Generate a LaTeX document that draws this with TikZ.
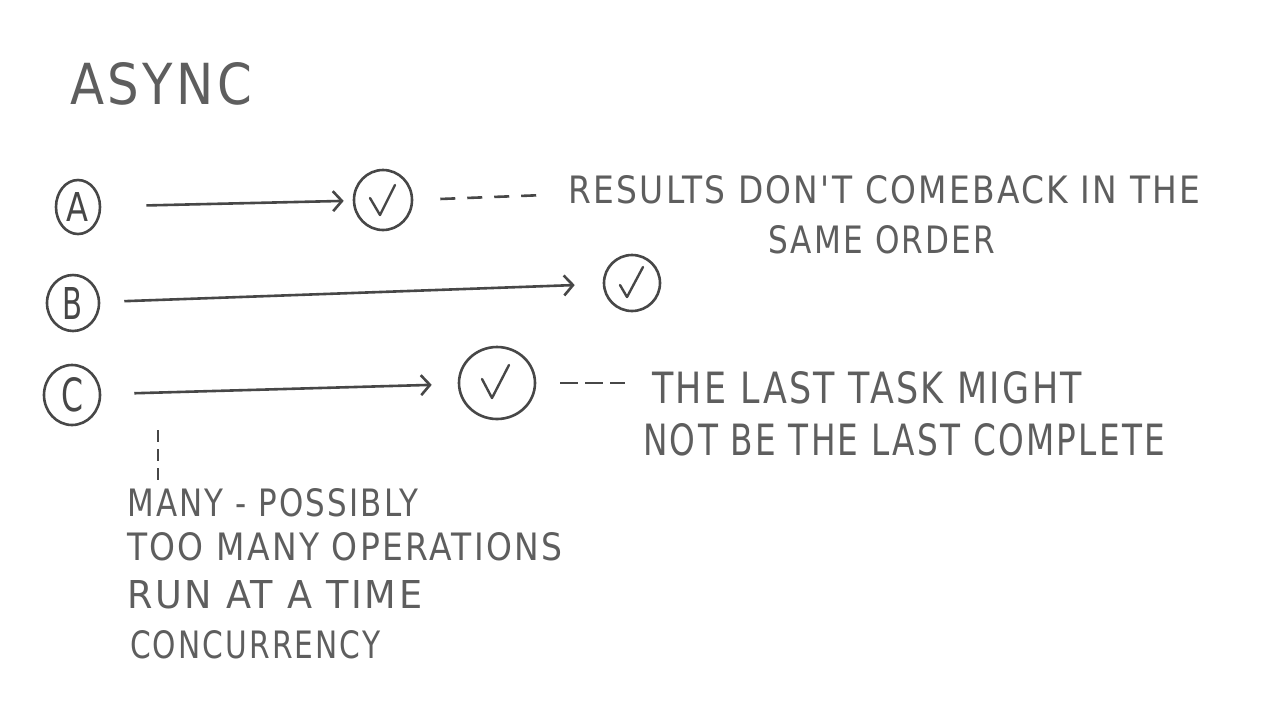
\documentclass[tikz,border=0pt]{standalone}
\usepackage{fontspec}
\setmainfont{DejaVu Sans}
\newfontfamily\hand[LetterSpace=7]{DejaVu Sans}
\newfontfamily\symfont{DejaVu Sans}
\usetikzlibrary{arrows.meta,shapes.geometric}
\definecolor{pen}{HTML}{474747}
\definecolor{ink}{HTML}{5E5E5E}
\newcommand\hwtext[3]{\resizebox{#1pt}{#2pt}{\hand #3}}
\tikzset{
  x=1pt, y=-1pt,
  lbl/.style={anchor=west, inner sep=0pt, text=ink},
  ring/.style={ellipse, draw=pen, line width=2.6pt, inner sep=0pt, text=pen},
  tick/.style={draw=pen, line width=2.4pt, line join=round, line cap=round},
  flow/.style={draw=pen, line width=2.6pt, -{Straight Barb[length=9pt,width=20pt,line width=2.6pt]}},
  dashline/.style={draw=pen, line width=2.6pt, dash pattern=on 15pt off 12pt},
}
\begin{document}
\begin{tikzpicture}
\useasboundingbox[fill=white] (0,0) rectangle (1280,721);

\node[lbl] (title) at (70,84) {\hwtext{182}{42}{ASYNC}};

\node[ring, minimum width=44pt, minimum height=54pt] (a) at (78,207) {\resizebox{22pt}{29pt}{\symfont A}};
\node[ring, minimum width=52pt, minimum height=56pt] (b) at (73,303) {\resizebox{20pt}{32pt}{\symfont B}};
\node[ring, minimum width=56pt, minimum height=60pt] (c) at (72,395) {\resizebox{22pt}{34pt}{\symfont C}};

\node[ring, minimum width=58pt, minimum height=60pt] (ca) at (383,200) {};
\node[ring, minimum width=56pt, minimum height=56pt] (cb) at (632,283) {};
\node[ring, minimum width=76pt, minimum height=72pt] (cc) at (497,383) {};
\draw[tick] (ca.center) ++(-13,-2) -- ++(10,17) -- ++(15,-30);
\draw[tick] (cb.center) ++(-12,2) -- ++(7,12) -- ++(16,-30);
\draw[tick] (cc.center) ++(-15,-4) -- ++(10,19) -- ++(17,-33);

\draw[flow, shorten <=45pt, shorten >=9pt] (a) -- (ca);
\draw[flow, shorten <=24pt, shorten >=28pt] (b) -- (cb);
\draw[flow, shorten <=33pt, shorten >=26pt] (c) -- (cc);

\node[lbl] (res1) at (568,190) {\hwtext{632}{28}{RESULTS DON'T COMEBACK IN THE}};
\node[lbl] (res2) at (768,240) {\hwtext{227}{28}{SAME ORDER}};
\node[lbl] (last1) at (652,388) {\hwtext{430}{32}{THE LAST TASK MIGHT}};
\node[lbl] (last2) at (643,440) {\hwtext{522}{32}{NOT BE THE LAST COMPLETE}};

\coordinate (dA) at (545,195);
\coordinate (dC) at (625,383);
\draw[dashline, shorten <=27pt] (ca.east) -- (dA);
\draw[dashline, dash pattern=on 18pt off 7pt, shorten <=24pt] (cc.east) -- (dC);

\coordinate (v1) at (158,430);
\coordinate (v2) at (158,482);
\draw[draw=pen, line width=1.8pt, dash pattern=on 12pt off 7pt] (v1) -- (v2);

\node[lbl] (m1) at (127,503) {\hwtext{291}{28}{MANY - POSSIBLY}};
\node[lbl] (m2) at (127,547) {\hwtext{435}{28}{TOO MANY OPERATIONS}};
\node[lbl] (m3) at (127,595) {\hwtext{295}{28}{RUN AT A TIME}};
\node[lbl] (m4) at (130,645) {\hwtext{250}{28}{CONCURRENCY}};
\end{tikzpicture}
\end{document}
